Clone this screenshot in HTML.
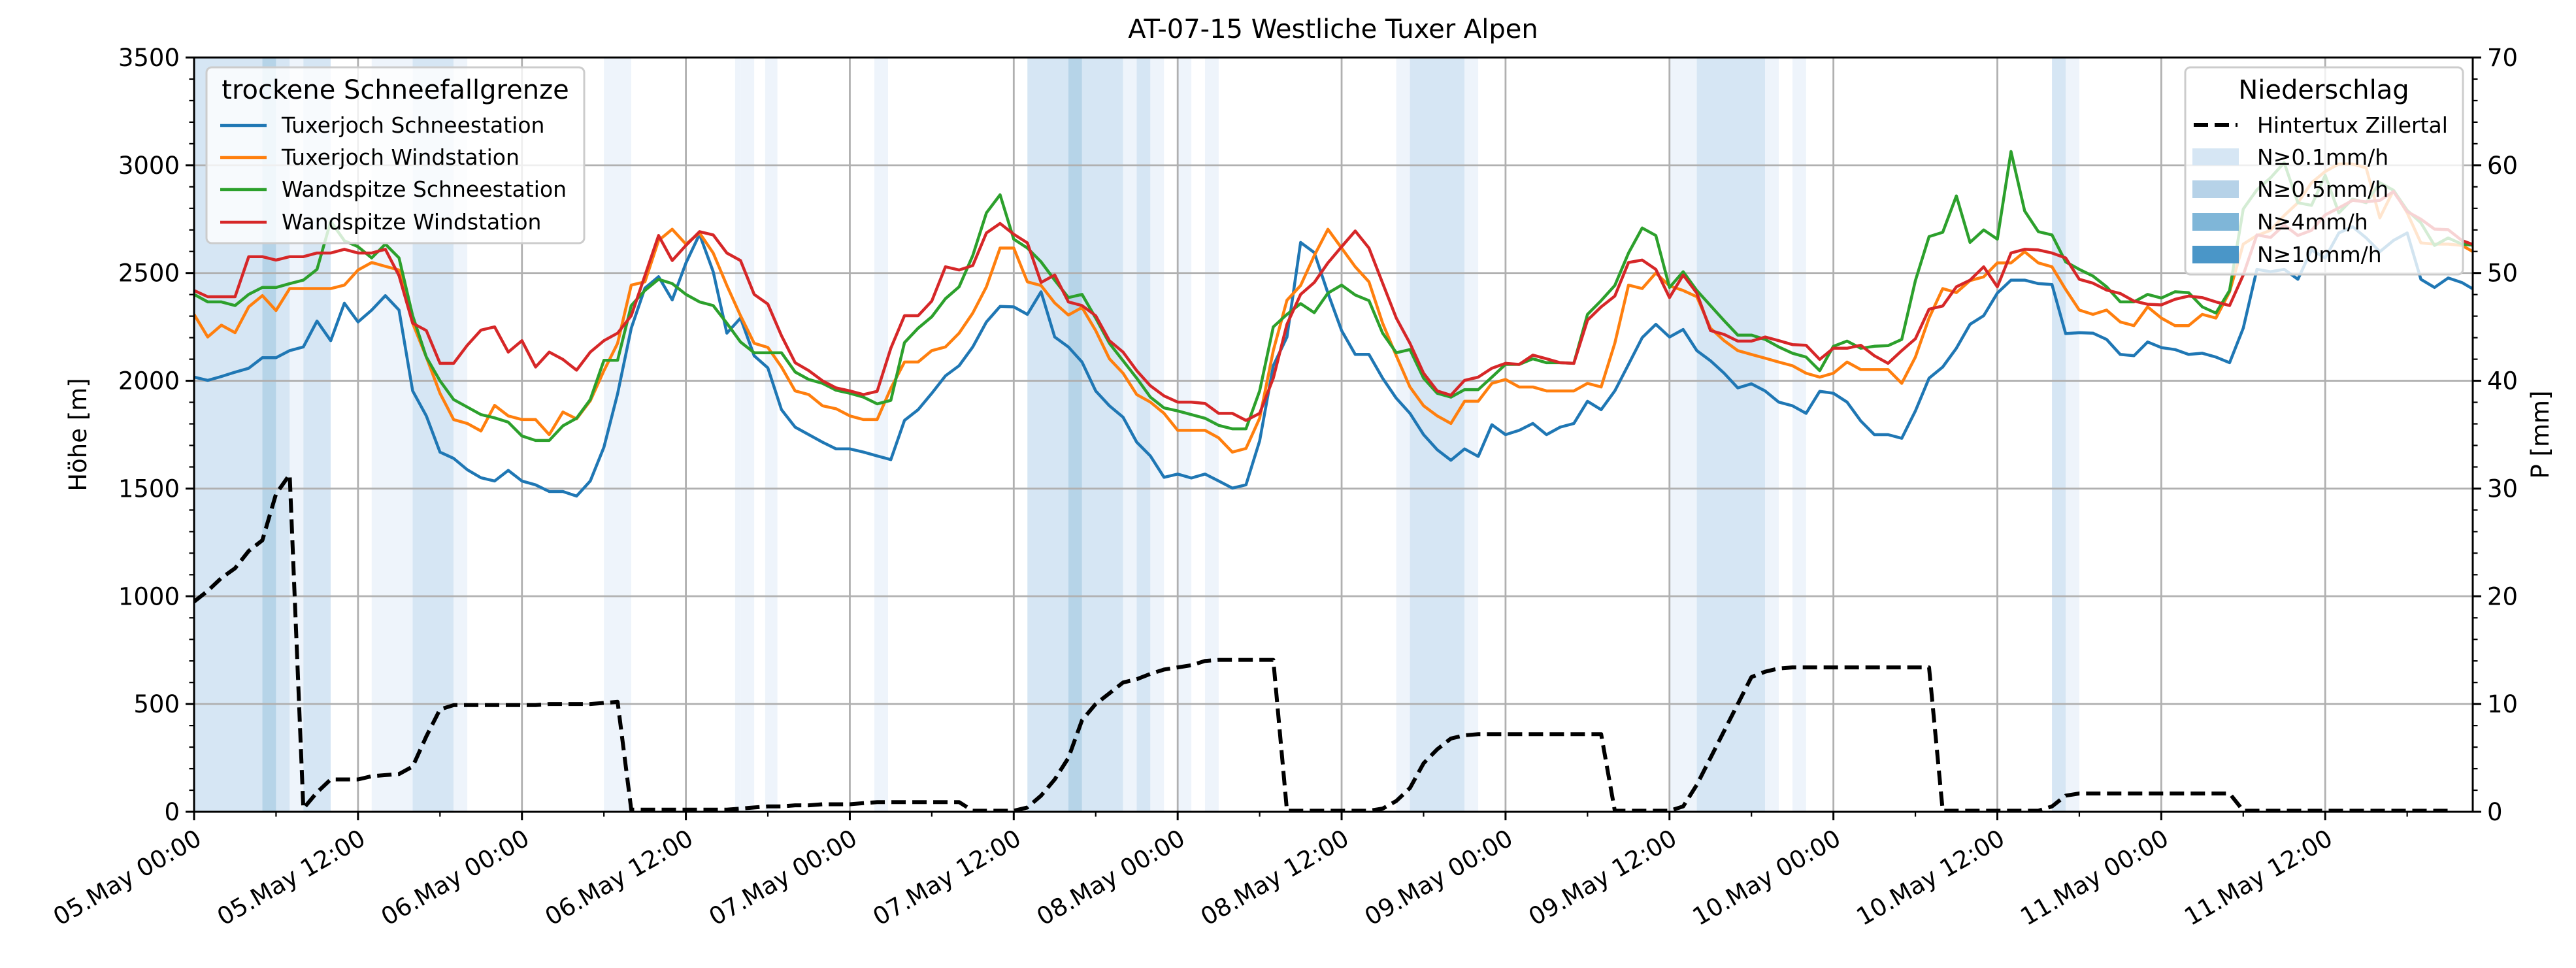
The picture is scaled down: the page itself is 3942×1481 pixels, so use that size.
<!DOCTYPE html>
<html><head><meta charset="utf-8">
<style>
html,body{margin:0;padding:0;background:#fff;}
svg{display:block;font-family:"DejaVu Sans","Liberation Sans",sans-serif;}
</style></head>
<body>
<svg id="chart" width="3942" height="1481" viewBox="0 0 3942 1481" xmlns="http://www.w3.org/2000/svg">
<defs><clipPath id="plotclip"><rect x="297" y="88" width="3487" height="1154"/></clipPath></defs>
<rect x="0" y="0" width="3942" height="1481" fill="#fff"/>
<text x="2040" y="58" font-size="40" text-anchor="middle">AT-07-15 Westliche Tuxer Alpen</text>
<g id="bands" clip-path="url(#plotclip)"></g>
<g id="grid"></g>
<g id="series" clip-path="url(#plotclip)"></g>
<g id="axes"></g>
<g id="legends"></g>
</svg>
<script>
const tuxSchnee = [2017,2002,2020,2040,2058,2107,2107,2140,2157,2277,2186,2360,2273,2328,2395,2328,1953,1837,1669,1640,1587,1550,1535,1584,1535,1517,1486,1486,1465,1535,1692,1940,2244,2430,2483,2375,2546,2680,2506,2221,2291,2116,
2060,1866,1785,1750,1715,1684,1684,1669,1651,1634,1816,1866,1942,2023,2070,2157,2273,2345,2343,2308,2413,2203,2157,2087,1953,1884,1831,1715,1651,1552,1567,1549,1567,1535,1502,1517,1721,2070,2203,2642,2595,2407,
2233,2122,2122,2012,1919,1849,1750,1680,1631,1684,1649,1796,1750,1770,1802,1750,1785,1802,1905,1866,1953,2076,2200,2262,2203,2238,2140,2093,2035,1967,1986,1953,1901,1884,1849,1951,1942,1901,1814,1750,1750,1733,
1860,2012,2064,2151,2262,2302,2407,2467,2467,2451,2447,2219,2223,2221,2192,2122,2116,2180,2154,2145,2122,2128,2110,2084,2244,2517,2506,2517,2471,2607,2570,2686,2715,2663,2599,2651,2686,2471,2433,2477,2456,2419];
const tuxWind = [2308,2203,2258,2223,2343,2395,2326,2428,2428,2428,2428,2444,2514,2549,2531,2514,2267,2110,1942,1820,1802,1767,1886,1837,1820,1820,1750,1855,1823,1907,2047,2174,2444,2459,2651,2703,2634,2686,2593,2442,2302,2174,
2155,2064,1953,1936,1884,1870,1837,1820,1820,1965,2087,2087,2140,2157,2221,2314,2436,2616,2616,2459,2442,2361,2305,2340,2233,2102,2035,1936,1901,1849,1770,1770,1770,1735,1669,1686,1826,2140,2374,2442,2581,2703,
2616,2529,2459,2267,2116,1971,1884,1837,1802,1905,1905,1988,2006,1971,1971,1953,1953,1953,1988,1971,2174,2444,2428,2500,2440,2419,2390,2244,2186,2140,2122,2105,2087,2070,2035,2017,2035,2087,2052,2052,2052,1988,
2110,2291,2428,2409,2465,2482,2547,2547,2599,2547,2529,2424,2328,2308,2328,2273,2256,2343,2291,2256,2256,2308,2291,2413,2634,2674,2698,2767,2826,2919,2971,3006,3006,2988,2756,2884,2779,2640,2634,2634,2628,2593];
const wandSchnee = [2401,2366,2366,2349,2401,2433,2433,2451,2467,2517,2740,2650,2622,2570,2634,2570,2302,2110,2000,1913,1878,1843,1828,1808,1744,1723,1723,1791,1826,1913,2095,2095,2349,2419,2471,2451,2401,2366,2349,2267,2180,2130,
2130,2130,2041,2006,1988,1956,1942,1924,1893,1909,2177,2244,2297,2381,2436,2581,2779,2863,2657,2616,2552,2467,2386,2401,2291,2174,2093,2012,1924,1874,1860,1843,1826,1793,1777,1777,1953,2250,2308,2358,2316,2407,
2444,2398,2372,2221,2130,2145,2012,1942,1924,1959,1959,2017,2076,2076,2102,2084,2084,2081,2308,2372,2442,2593,2709,2674,2433,2506,2419,2349,2279,2212,2212,2192,2157,2128,2110,2047,2160,2184,2151,2160,2163,2192,
2465,2669,2689,2858,2642,2700,2657,3064,2788,2692,2677,2552,2517,2486,2436,2366,2366,2401,2384,2413,2409,2343,2314,2419,2797,2886,2942,3012,2826,2814,2953,2779,2843,2826,2919,2884,2791,2733,2628,2663,2634,2628];
const wandWind = [2419,2390,2390,2390,2576,2576,2560,2576,2576,2593,2593,2610,2593,2593,2610,2488,2267,2233,2081,2081,2165,2235,2250,2133,2186,2064,2133,2099,2049,2133,2186,2221,2302,2488,2674,2558,2628,2692,2677,2593,2558,2401,
2356,2209,2084,2047,2000,1967,1953,1936,1951,2151,2302,2302,2370,2529,2514,2535,2686,2730,2680,2640,2456,2491,2366,2349,2302,2186,2133,2047,1977,1930,1901,1901,1895,1849,1849,1816,1849,2012,2262,2401,2456,2547,
2622,2695,2616,2453,2291,2174,2035,1953,1933,2002,2017,2058,2081,2076,2119,2102,2084,2081,2281,2343,2393,2549,2560,2517,2386,2491,2407,2233,2215,2184,2184,2203,2186,2168,2165,2099,2151,2151,2165,2116,2081,2140,
2195,2332,2347,2436,2467,2529,2436,2593,2610,2607,2593,2570,2471,2453,2421,2405,2370,2355,2352,2378,2393,2386,2366,2349,2491,2677,2665,2723,2674,2698,2770,2802,2837,2831,2837,2878,2785,2750,2704,2701,2651,2628];
const precip = [19.5,20.5,21.7,22.6,24.2,25.2,29.5,31.3,0.3,1.8,3.0,3.0,3.0,3.3,3.4,3.5,4.2,7.0,9.5,9.9,9.9,9.9,9.9,9.9,9.9,9.9,10.0,10.0,10.0,10.0,10.1,10.2,0.2,0.2,0.2,0.2,0.2,0.2,0.2,0.2,0.3,0.4,
0.5,0.5,0.6,0.6,0.7,0.7,0.7,0.8,0.9,0.9,0.9,0.9,0.9,0.9,0.9,0.1,0.1,0.1,0.1,0.4,1.5,3.0,5.0,8.5,10.0,11.0,12.0,12.3,12.8,13.2,13.4,13.6,14.0,14.1,14.1,14.1,14.1,14.1,0.1,0.1,0.1,0.1,
0.1,0.1,0.1,0.3,1.0,2.2,4.5,5.8,6.8,7.1,7.2,7.2,7.2,7.2,7.2,7.2,7.2,7.2,7.2,7.2,0.1,0.1,0.1,0.1,0.1,0.5,2.5,5.0,7.5,10.0,12.5,13.0,13.3,13.4,13.4,13.4,
13.4,13.4,13.4,13.4,13.4,13.4,13.4,13.4,0.1,0.1,0.1,0.1,0.1,0.1,0.1,0.1,0.5,1.5,1.7,1.7,1.7,1.7,1.7,1.7,1.7,1.7,1.7,1.7,1.7,1.7,0.1,0.1,0.1,0.1,0.1,0.1,0.1,0.1,0.1,0.1,0.1,0.1,0.1,0.1,0.1,0.1];
const bandStart = [0,5,6,7,8,13,16,19,30,39.6,40,41.8,49.8,61,64,65,68,69,70,72,74,88,89,93,108,110,115,117,136,137];
const bandEnd   = [5,6,7,8,10,16,19,20,32,40,41,42.7,50.8,64,65,68,69,70,71,73,75,89,93,94,110,115,116,118,137,138];
const bandLevel = [1,2,1,0,1,0,1,0,0,0,0,0,0,1,2,1,0,1,0,0,0,0,1,0,0,1,0,0,1,0];
const xTickLabels = ["05.May 00:00","05.May 12:00","06.May 00:00","06.May 12:00","07.May 00:00","07.May 12:00","08.May 00:00","08.May 12:00","09.May 00:00","09.May 12:00","10.May 00:00","10.May 12:00","11.May 00:00","11.May 12:00"];
const yLeftTicks = [0,500,1000,1500,2000,2500,3000,3500];
const yRightTicks = [0,10,20,30,40,50,60,70];

const NS="http://www.w3.org/2000/svg";
const L=297,R=3784,T=88,B=1242,XMAX=166.8;
function xs(h){return L+h*(R-L)/XMAX;}
function yl(v){return B-v*(B-T)/3500;}
function yr(p){return B-p*(B-T)/70;}
function mk(tag,attrs,parent){const e=document.createElementNS(NS,tag);for(const k in attrs)e.setAttribute(k,attrs[k]);parent.appendChild(e);return e;}
const gB=document.getElementById('bands'),gG=document.getElementById('grid'),gS=document.getElementById('series'),gA=document.getElementById('axes');
const bandColors=['#eef4fb','#d6e6f4','#b6d4e8'];
for(let i=0;i<bandStart.length;i++){
  const r=mk('rect',{x:xs(bandStart[i]),y:T,width:xs(bandEnd[i])-xs(bandStart[i]),height:B-T,fill:bandColors[bandLevel[i]]},gB);
  
  
}
for(let i=0;i<xTickLabels.length;i++){const x=xs(i*12);const g=mk('line',{x1:x,x2:x,y1:T,y2:B,stroke:'#b0b0b0','stroke-width':2.8},gG);

}
for(const v of yLeftTicks){const g=mk('line',{x1:L,x2:R,y1:yl(v),y2:yl(v),stroke:'#b0b0b0','stroke-width':2.8},gG);

}
function poly(arr,fy,color,w,name,dash){
  let d='';arr.forEach((v,i)=>{d+=(i?'L':'M')+xs(i).toFixed(1)+','+fy(v).toFixed(1);});
  const p=mk('path',{d:d,fill:'none',stroke:color,'stroke-width':w,'stroke-linejoin':'round'},gS);
  if(dash)p.setAttribute('stroke-dasharray',dash);
  
  
}
poly(tuxSchnee,yl,'#1f77b4',4.5,'tuxerjoch-schneestation-line');
poly(tuxWind,yl,'#ff7f0e',4.5,'tuxerjoch-windstation-line');
poly(wandSchnee,yl,'#2ca02c',4.5,'wandspitze-schneestation-line');
poly(wandWind,yl,'#d62728',4.5,'wandspitze-windstation-line');
poly(precip,yr,'#000',6,'hintertux-precip-line','22,10');
mk('rect',{x:L,y:T,width:R-L,height:B-T,fill:'none',stroke:'#000','stroke-width':3},gA);
for(let h=0;h<=XMAX;h+=6){const major=h%12===0;mk('line',{x1:xs(h),x2:xs(h),y1:B,y2:B+(major?13:7.5),stroke:'#000','stroke-width':major?3:2.2},gA);}
for(let i=0;i<xTickLabels.length;i++){
  const x=xs(i*12),y=B+24;
  const t=mk('text',{x:x,y:y,'font-size':37,'text-anchor':'end',dy:'0.75em',transform:`rotate(-30 ${x} ${y})`},gA);
  t.textContent=xTickLabels[i];
  
  
}
for(let v=0;v<=3500;v+=100){const major=v%500===0;mk('line',{x1:L,x2:L-(major?13:7.5),y1:yl(v),y2:yl(v),stroke:'#000','stroke-width':major?3:2.2},gA);}
for(const v of yLeftTicks){const t=mk('text',{x:L-22,y:yl(v)+13,'font-size':37,'text-anchor':'end'},gA);t.textContent=v;

}
for(let p=0;p<=70;p+=2){const major=p%10===0;mk('line',{x1:R,x2:R+(major?13:7.5),y1:yr(p),y2:yr(p),stroke:'#000','stroke-width':major?3:2.2},gA);}
for(const p of yRightTicks){const t=mk('text',{x:R+22,y:yr(p)+13,'font-size':37,'text-anchor':'start'},gA);t.textContent=p;

}

document.getElementById('legends').innerHTML=`
<text x="0" y="0" font-size="37" text-anchor="middle" transform="translate(132 665) rotate(-90)">Höhe [m]</text>
<text x="0" y="0" font-size="37" text-anchor="middle" transform="translate(3900 665) rotate(-90)">P [mm]</text>
<g>
<rect x="316" y="103" width="578" height="269" rx="8" fill="#fff" fill-opacity="0.8" stroke="#cccccc" stroke-width="3"/>
<text x="605" y="151" font-size="40" text-anchor="middle">trockene Schneefallgrenze</text>
<line x1="337" x2="408" y1="192" y2="192" stroke="#1f77b4" stroke-width="4.5"/>
<text x="431" y="203" font-size="33">Tuxerjoch Schneestation</text>
<line x1="337" x2="408" y1="241" y2="241" stroke="#ff7f0e" stroke-width="4.5"/>
<text x="431" y="252" font-size="33">Tuxerjoch Windstation</text>
<line x1="337" x2="408" y1="290" y2="290" stroke="#2ca02c" stroke-width="4.5"/>
<text x="431" y="301" font-size="33">Wandspitze Schneestation</text>
<line x1="337" x2="408" y1="340" y2="340" stroke="#d62728" stroke-width="4.5"/>
<text x="431" y="351" font-size="33">Wandspitze Windstation</text>
</g>
<g>
<rect x="3344" y="103" width="425" height="317" rx="8" fill="#fff" fill-opacity="0.8" stroke="#cccccc" stroke-width="3"/>
<text x="3556" y="151" font-size="40" text-anchor="middle">Niederschlag</text>
<line x1="3357" x2="3424" y1="191" y2="191" stroke="#000" stroke-width="6" stroke-dasharray="22,10"/>
<text x="3454" y="203" font-size="33">Hintertux Zillertal</text>
<rect x="3355" y="227" width="71" height="26" fill="#d6e6f4"/>
<text x="3454" y="252" font-size="33">N≥0.1mm/h</text>
<rect x="3355" y="276" width="71" height="27" fill="#b6d2e8"/>
<text x="3454" y="301" font-size="33">N≥0.5mm/h</text>
<rect x="3355" y="326" width="71" height="27" fill="#7fb6d8"/>
<text x="3454" y="351" font-size="33">N≥4mm/h</text>
<rect x="3355" y="376" width="71" height="27" fill="#4a96c8"/>
<text x="3454" y="401" font-size="33">N≥10mm/h</text>
</g>`;
</script>
</body></html>
